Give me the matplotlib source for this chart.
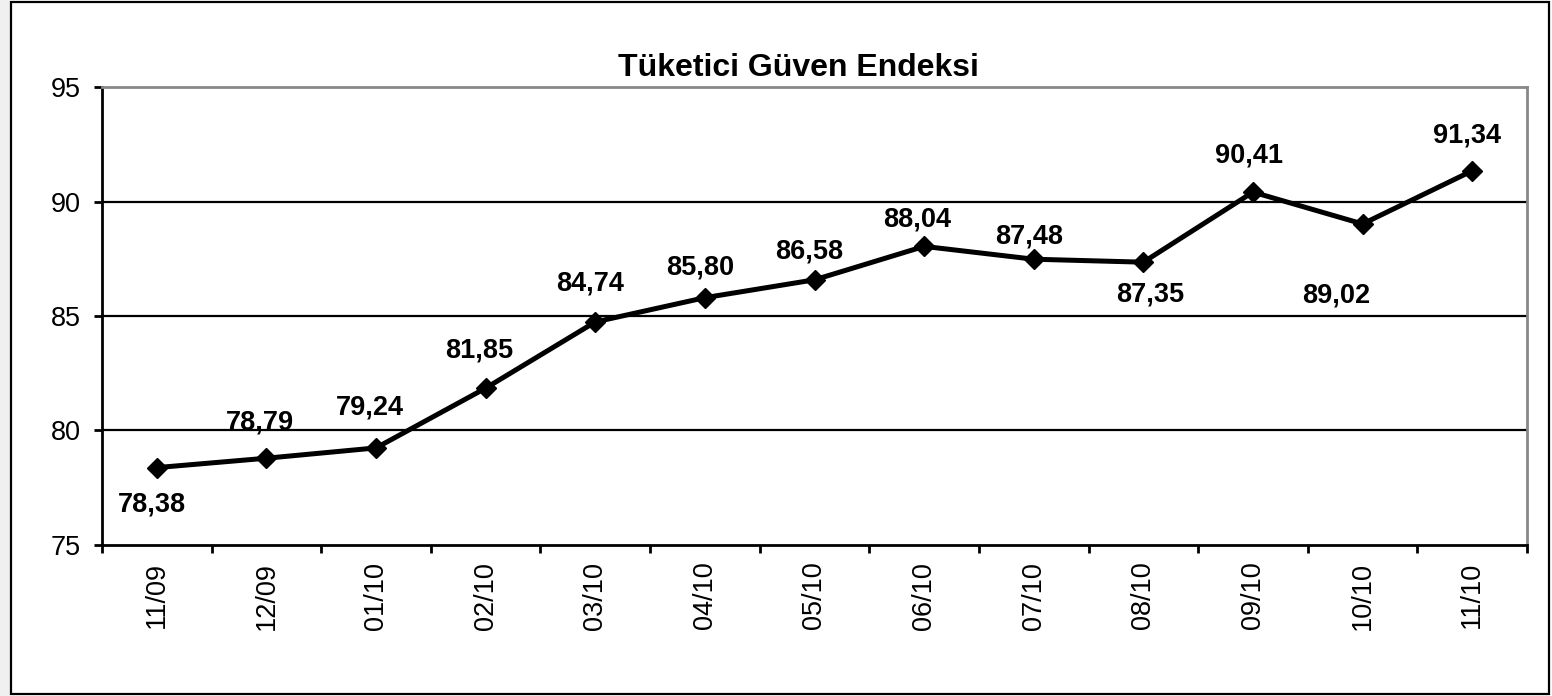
import matplotlib
matplotlib.use("Agg")
import matplotlib.pyplot as plt
from matplotlib.patches import Rectangle

plt.rcParams["font.family"] = ["Liberation Sans", "DejaVu Sans"]

# data
months = ["11/09", "12/09", "01/10", "02/10", "03/10", "04/10", "05/10",
          "06/10", "07/10", "08/10", "09/10", "10/10", "11/10"]
values = [78.38, 78.79, 79.24, 81.85, 84.74, 85.80, 86.58,
          88.04, 87.48, 87.35, 90.41, 89.02, 91.34]

# label placement relative to each point, in pixels (x right, y up)
label_dx = [-5, -6, -6, -6, -5, -5, -5, -7, -5, 7, -4, -26, -5]
label_dy = [-37, 36, 40, 38, 38, 30, 28, 27, 23, -32, 37, -72, 35]

W, H = 1552, 696
fig = plt.figure(figsize=(W / 100, H / 100), dpi=100)

# outer frame + faint shade on the left edge
fig.patches.append(Rectangle((0, 0), 10 / W, 1, transform=fig.transFigure,
                             facecolor="#f0f0f0", edgecolor="none"))
fig.patches.append(Rectangle((11 / W, 2 / H), 1538 / W, 692 / H,
                             transform=fig.transFigure, facecolor="none",
                             edgecolor="#000000", linewidth=1.6))

ax = fig.add_axes([102 / W, 1 - 545 / H, 1425 / W, 458 / H])

x = list(range(len(months)))
ax.plot(x, values, color="black", linewidth=3.6, marker="D",
        markersize=10, zorder=3)

px = 72 / 100  # pixels -> points
for xi, v, dx, dy in zip(x, values, label_dx, label_dy):
    ax.annotate(f"{v:.2f}".replace(".", ","), (xi, v),
                xytext=(dx * px, dy * px), textcoords="offset points",
                ha="center", va="center", fontsize=19.5, fontweight="bold")

ax.set_xlim(-0.5, len(months) - 0.5)
ax.set_ylim(75, 95)
ax.set_yticks([75, 80, 85, 90, 95])
ax.set_xticks(x)
ax.set_xticklabels(months, rotation=90)
ax.set_xticks([i - 0.5 for i in range(len(months) + 1)], minor=True)
ax.tick_params(axis="x", which="major", length=0, pad=12, labelsize=19.5)
ax.tick_params(axis="x", which="minor", length=6, width=2, direction="out")
ax.tick_params(axis="y", length=6, width=2, labelsize=19.5, pad=9)

for yv in [80, 85, 90]:
    ax.axhline(yv, color="black", linewidth=1.6, zorder=1)

for side in ["left", "bottom"]:
    ax.spines[side].set_linewidth(2)
    ax.spines[side].set_color("black")
for side in ["top", "right"]:
    ax.spines[side].set_linewidth(2)
    ax.spines[side].set_color("#888888")

ax.set_title("Tüketici Güven Endeksi", fontsize=23, fontweight="bold",
             pad=8, x=0.489)

fig.savefig("out.png", dpi=100)
